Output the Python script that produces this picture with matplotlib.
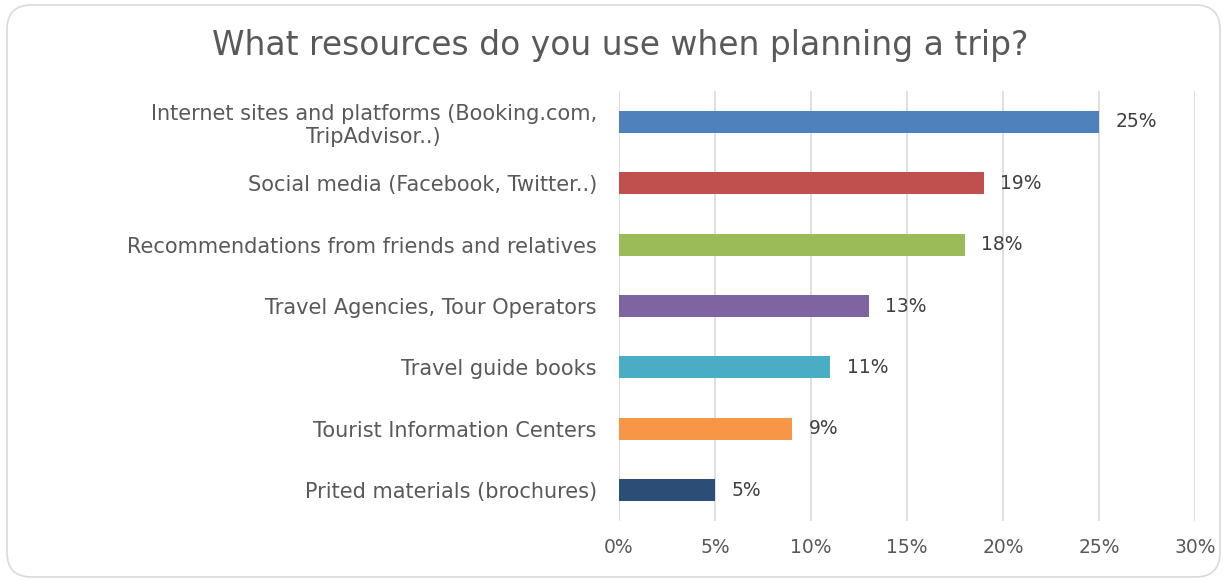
import matplotlib
matplotlib.use("Agg")
import matplotlib.pyplot as plt
from matplotlib.patches import FancyBboxPatch
from matplotlib.ticker import FuncFormatter, MultipleLocator

categories = [
    "Internet sites and platforms (Booking.com,\nTripAdvisor..)",
    "Social media (Facebook, Twitter..)",
    "Recommendations from friends and relatives",
    "Travel Agencies, Tour Operators",
    "Travel guide books",
    "Tourist Information Centers",
    "Prited materials (brochures)",
]
values = [25, 19, 18, 13, 11, 9, 5]
colors = ["#4F81BD", "#C0504D", "#9BBB59", "#8064A2", "#4BACC6", "#F79646", "#2C4D75"]
title = "What resources do you use when planning a trip?"

plt.rcParams['font.family'] = ['DejaVu Sans']

fig = plt.figure(figsize=(12.27, 5.80), dpi=100)
fig.patch.set_facecolor("white")

frame = FancyBboxPatch((7/1227, 3/580), (1213/1227), (572/580),
                       boxstyle="round,pad=0,rounding_size=0.02",
                       transform=fig.transFigure, facecolor="none",
                       edgecolor="#D9D9D9", linewidth=1.2, mutation_aspect=1227/580,
                       zorder=-5)
fig.patches.append(frame)

ax = fig.add_axes([619/1227, 1 - 521/580, (1195 - 619)/1227, (521 - 91)/580])
ax.set_facecolor("none")

ypos = list(range(len(categories)))
ax.barh(ypos, values, height=0.36, color=colors, zorder=3)
ax.set_ylim(len(categories) - 0.5, -0.5)
ax.set_xlim(0, 30)
ax.xaxis.set_major_locator(MultipleLocator(5))
ax.xaxis.set_major_formatter(FuncFormatter(lambda v, p: f"{int(v)}%"))
ax.grid(axis="x", color="#D9D9D9", linewidth=1.2, zorder=0)
ax.set_axisbelow(True)
for s in ax.spines.values():
    s.set_visible(False)
ax.set_yticks(ypos)
ax.set_yticklabels(categories, multialignment="center")
ax.tick_params(axis="y", length=0, labelsize=15, colors="#595959", pad=16)
ax.tick_params(axis="x", length=0, labelsize=13.5, colors="#595959", pad=12)

for y, v in zip(ypos, values):
    ax.annotate(f"{v}%", (v, y), xytext=(12, 0), textcoords="offset points",
                ha="left", va="center", fontsize=13.5, color="#404040")

fig.text(620/1227, 1 - 45/580, title, ha="center", va="center", fontsize=23.7, color="#595959")

fig.savefig("out.png", dpi=100, facecolor="white")
